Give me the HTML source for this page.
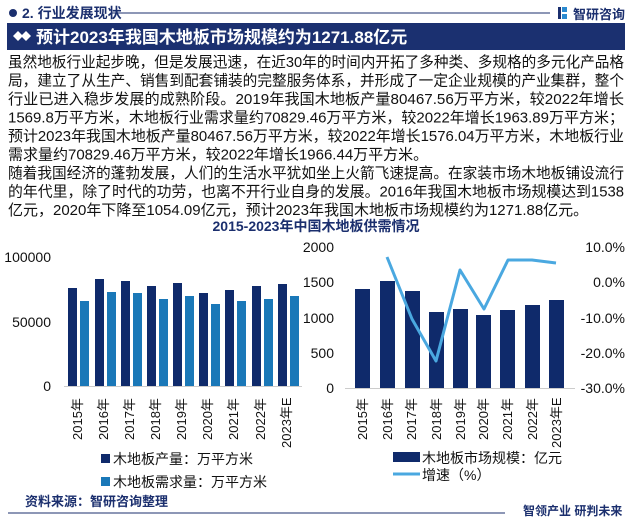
<!DOCTYPE html>
<html><head><meta charset="utf-8"><style>
html,body{margin:0;padding:0;background:#fff;width:632px;height:522px;overflow:hidden}
svg{display:block;font-family:"Liberation Sans","Noto Sans CJK SC",sans-serif}
</style></head><body>
<svg width="632" height="522" viewBox="0 0 632 522" xmlns="http://www.w3.org/2000/svg">
<circle cx="13" cy="13" r="4" fill="#1b2f6e"/>
<text x="22" y="18" font-size="14" font-weight="bold" fill="#1b2f6e">2. 行业发展现状</text>
<line x1="112" y1="13" x2="550" y2="13" stroke="#1b2f6e" stroke-width="1"/>
<rect x="558" y="7" width="3" height="12" fill="#1b2f6e"/>
<rect x="562" y="7" width="5" height="5" fill="#2b8ad0"/>
<rect x="562" y="14" width="5" height="5" fill="#2b8ad0"/>
<text x="573" y="19" font-size="13" font-weight="bold" fill="#1b2f6e">智研咨询</text>
<rect x="7" y="23" width="618" height="27" fill="#1b3070"/>
<path d="M13 36 L18 31 L23 36 L18 41Z" fill="#fff"/>
<path d="M21 36 L26 31 L31 36 L26 41Z" fill="#fff"/>
<text x="36" y="43" font-size="17" font-weight="bold" fill="#fff">预计2023年我国木地板市场规模约为1271.88亿元</text>
<g font-size="15" fill="#111">
<text x="8" y="67" textLength="616" lengthAdjust="spacingAndGlyphs">虽然地板行业起步晚，但是发展迅速，在近30年的时间内开拓了多种类、多规格的多元化产品格</text>
<text x="8" y="85.5" textLength="616" lengthAdjust="spacingAndGlyphs">局，建立了从生产、销售到配套铺装的完整服务体系，并形成了一定企业规模的产业集群，整个</text>
<text x="8" y="104" textLength="616" lengthAdjust="spacingAndGlyphs">行业已进入稳步发展的成熟阶段。2019年我国木地板产量80467.56万平方米，较2022年增长</text>
<text x="8" y="122.5" textLength="616" lengthAdjust="spacingAndGlyphs">1569.8万平方米，木地板行业需求量约70829.46万平方米，较2022年增长1963.89万平方米；</text>
<text x="8" y="141" textLength="616" lengthAdjust="spacingAndGlyphs">预计2023年我国木地板产量80467.56万平方米，较2022年增长1576.04万平方米，木地板行业</text>
<text x="8" y="159.5">需求量约70829.46万平方米，较2022年增长1966.44万平方米。</text>
<text x="8" y="178" textLength="616" lengthAdjust="spacingAndGlyphs">随着我国经济的蓬勃发展，人们的生活水平犹如坐上火箭飞速提高。在家装市场木地板铺设流行</text>
<text x="8" y="196.5" textLength="616" lengthAdjust="spacingAndGlyphs">的年代里，除了时代的功劳，也离不开行业自身的发展。2016年我国木地板市场规模达到1538</text>
<text x="8" y="215">亿元，2020年下降至1054.09亿元，预计2023年我国木地板市场规模约为1271.88亿元。</text>
</g>
<text x="316" y="231" font-size="14" font-weight="bold" fill="#1b2f6e" text-anchor="middle">2015-2023年中国木地板供需情况</text>

<g font-size="14" fill="#111" text-anchor="end">
<text x="51" y="262">100000</text>
<text x="51" y="327">50000</text>
<text x="51" y="391">0</text>
</g>
<line x1="64" y1="386.5" x2="302" y2="386.5" stroke="#ccc" stroke-width="1"/>
<g fill="#0f2a6b">
<rect x="68" y="288" width="9" height="98"/>
<rect x="95" y="279" width="9" height="107"/>
<rect x="121" y="281" width="9" height="105"/>
<rect x="147" y="286" width="9" height="100"/>
<rect x="173" y="283" width="9" height="103"/>
<rect x="199" y="293" width="9" height="93"/>
<rect x="225" y="290" width="9" height="96"/>
<rect x="252" y="286" width="9" height="100"/>
<rect x="278" y="284" width="9" height="102"/>
</g>
<g fill="#1a78b8">
<rect x="80" y="301" width="9" height="85"/>
<rect x="107" y="292" width="9" height="94"/>
<rect x="133" y="293" width="9" height="93"/>
<rect x="159" y="299" width="9" height="87"/>
<rect x="185" y="296" width="9" height="90"/>
<rect x="211" y="304" width="9" height="82"/>
<rect x="237" y="301" width="9" height="85"/>
<rect x="264" y="299" width="9" height="87"/>
<rect x="290" y="296" width="9" height="90"/>
</g>
<g font-size="13" fill="#111">
<text transform="translate(82,440) rotate(-90)">2015年</text>
<text transform="translate(108,440) rotate(-90)">2016年</text>
<text transform="translate(134,440) rotate(-90)">2017年</text>
<text transform="translate(160,440) rotate(-90)">2018年</text>
<text transform="translate(186,440) rotate(-90)">2019年</text>
<text transform="translate(212,440) rotate(-90)">2020年</text>
<text transform="translate(238,440) rotate(-90)">2021年</text>
<text transform="translate(265,440) rotate(-90)">2022年</text>
<text transform="translate(291,448) rotate(-90)">2023年E</text>
</g>
<rect x="101" y="454" width="9" height="9" fill="#0f2a6b"/>
<text x="113" y="464" font-size="14" fill="#111">木地板产量：万平方米</text>
<rect x="101" y="477" width="9" height="9" fill="#1a78b8"/>
<text x="113" y="487" font-size="14" fill="#111">木地板需求量：万平方米</text>

<g font-size="14" fill="#111" text-anchor="end">
<text x="334" y="252">2000</text>
<text x="334" y="287">1500</text>
<text x="334" y="323">1000</text>
<text x="334" y="358">500</text>
<text x="334" y="393">0</text>
</g>
<g font-size="14" fill="#111" text-anchor="end">
<text x="625" y="252">10.0%</text>
<text x="625" y="287">0.0%</text>
<text x="625" y="323">-10.0%</text>
<text x="625" y="358">-20.0%</text>
<text x="625" y="393">-30.0%</text>
</g>
<line x1="345" y1="388.5" x2="575" y2="388.5" stroke="#ccc" stroke-width="1"/>
<g fill="#0f2a6b">
<rect x="355" y="289" width="15" height="99"/>
<rect x="380" y="281" width="15" height="107"/>
<rect x="405" y="291" width="15" height="97"/>
<rect x="429" y="312" width="15" height="76"/>
<rect x="453" y="309" width="15" height="79"/>
<rect x="476" y="315" width="15" height="73"/>
<rect x="500" y="310" width="15" height="78"/>
<rect x="525" y="305" width="15" height="83"/>
<rect x="549" y="300" width="15" height="88"/>
</g>
<polyline points="387,257 412,319 436,361 460,270 484,309 508,260 532,260 556,263" fill="none" stroke="#4aa8e0" stroke-width="3" stroke-linejoin="round"/>
<g font-size="13" fill="#111">
<text transform="translate(367,440) rotate(-90)">2015年</text>
<text transform="translate(392,440) rotate(-90)">2016年</text>
<text transform="translate(416,440) rotate(-90)">2017年</text>
<text transform="translate(441,440) rotate(-90)">2018年</text>
<text transform="translate(465,440) rotate(-90)">2019年</text>
<text transform="translate(488,440) rotate(-90)">2020年</text>
<text transform="translate(512,440) rotate(-90)">2021年</text>
<text transform="translate(537,440) rotate(-90)">2022年</text>
<text transform="translate(561,448) rotate(-90)">2023年E</text>
</g>
<rect x="393" y="452" width="27" height="10" fill="#0f2a6b"/>
<text x="422" y="463" font-size="14" fill="#111">木地板市场规模：亿元</text>
<line x1="393" y1="474" x2="420" y2="474" stroke="#4aa8e0" stroke-width="3"/>
<text x="422" y="480" font-size="14" fill="#111">增速（%）</text>

<text x="25" y="506" font-size="13" font-weight="bold" fill="#1b2f6e">资料来源：智研咨询整理</text>
<line x1="8" y1="513" x2="505" y2="513" stroke="#1b2f6e" stroke-width="1"/>
<text x="523" y="515" font-size="12" font-weight="bold" fill="#1b2f6e">智领产业 研判未来</text>
</svg>
</body></html>
